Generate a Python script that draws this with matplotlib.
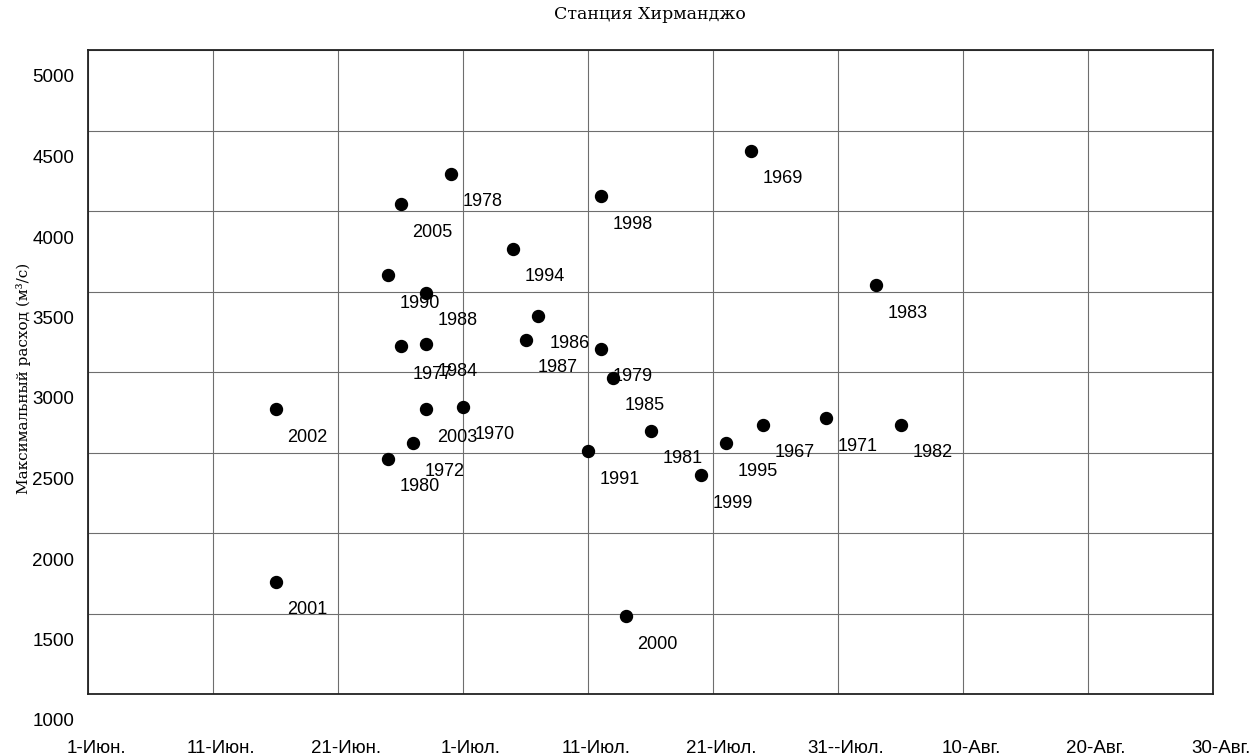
import numpy as np
import pandas as pd
import matplotlib
matplotlib.use("Agg")
import matplotlib.pyplot as plt
import matplotlib.dates as mdates
from matplotlib.transforms import ScaledTranslation

# годы, даты пика и максимальный расход (м3/с)
years = ["2001", "2002", "1980", "1972", "2003", "1970", "1977", "1984", "1990", "1988",
         "2005", "1978", "1994", "1998", "1969", "1983", "1967", "1995", "1999", "1971",
         "1982", "1986", "1987", "1979", "1985", "1981", "1991", "2000"]
dates = ["06-16", "06-16", "06-25", "06-27", "06-28", "07-01", "06-26", "06-28", "06-25", "06-28",
         "06-26", "06-30", "07-05", "07-12", "07-24", "08-03", "07-25", "07-22", "07-20", "07-30",
         "08-05", "07-07", "07-06", "07-12", "07-13", "07-16", "07-11", "07-14"]
flow = [1696, 2770, 2460, 2559, 2770, 2783, 3161, 3174, 3602, 3491,
        4043, 4230, 3764, 4093, 4373, 3540, 2671, 2559, 2360, 2714,
        2671, 3348, 3199, 3143, 2963, 2634, 2509, 1484]

tick_dates = ["06-01", "06-11", "06-21", "07-01", "07-11", "07-21", "07-31", "08-10", "08-20", "08-30"]
tick_labels = ["1-Июн.", "11-Июн.", "21-Июн.", "1-Июл.", "11-Июл.", "21-Июл.",
               "31--Июл.", "10-Авг.", "20-Авг.", "30-Авг."]
y_ticks = [1000, 1500, 2000, 2500, 3000, 3500, 4000, 4500, 5000]

x = pd.to_datetime(["2000-" + d for d in dates])
xt = pd.to_datetime(["2000-" + d for d in tick_dates])

plt.rcParams['font.family'] = ['Liberation Sans', 'DejaVu Sans']

fig = plt.figure(figsize=(12.5, 7.56), dpi=100)
ax = fig.add_axes([88 / 1250, 62 / 756, 1125 / 1250, 644 / 756])

ax.plot(x, flow, 'o', color='black', markersize=8.6, zorder=3)
for xi, yi, lab in zip(x, flow, years):
    ax.annotate(lab, (xi, yi), xytext=(12, -28), textcoords='offset pixels',
                ha='left', va='center', fontsize=13, color='black')

ax.set_xlim(xt[0], xt[-1])
ax.set_ylim(1000, 5000)
ax.set_xticks(xt)
ax.set_xticklabels(tick_labels)
ax.set_yticks(y_ticks)
ax.set_yticklabels([str(v) for v in y_ticks])
ax.tick_params(length=0, labelsize=13.5, colors='black')
ax.tick_params(axis='x', pad=3)
ax.tick_params(axis='y', pad=10)

# подписи осей сдвинуты как в исходной картинке
for lab in ax.get_xticklabels():
    lab.set_transform(lab.get_transform() + ScaledTranslation(0.08, -0.42, fig.dpi_scale_trans))
for lab in ax.get_yticklabels():
    lab.set_transform(lab.get_transform() + ScaledTranslation(0, -0.26, fig.dpi_scale_trans))

ax.grid(True, color='#6e6e6e', linewidth=0.8)
ax.set_axisbelow(True)
for s in ax.spines.values():
    s.set_color('#222222')
    s.set_linewidth(1.3)

fig.text(0.52, 0.981, "Станция Хирманджо", ha='center', va='center',
         family='DejaVu Serif', fontsize=12.5)
fig.text(0.019, 0.50, "Максимальный расход (м³/с)", ha='center', va='center',
         rotation=90, family='DejaVu Serif', fontsize=11)

fig.savefig("out.png", dpi=100)
